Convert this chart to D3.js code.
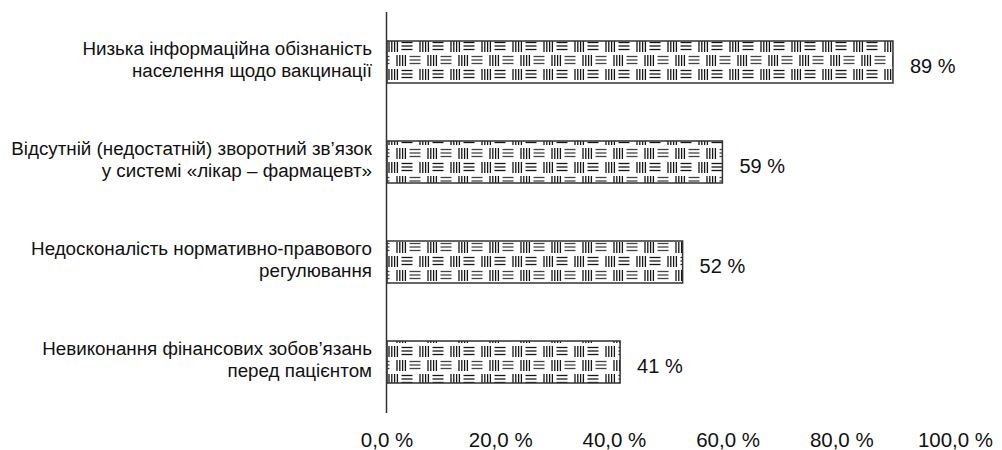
<!DOCTYPE html>
<html>
<head>
<meta charset="utf-8">
<script src="https://cdn.jsdelivr.net/npm/d3@7"></script>
<style>
  html, body { margin: 0; padding: 0; background: #fff; }
  svg { display: block; font-family: "Liberation Sans", Arial, sans-serif; }
</style>
</head>
<body>
<svg id="chart" width="1002" height="450"></svg>
<script>
// Chart data
const categories = [
  "Низька інформаційна обізнаність\nнаселення щодо вакцинації",
  "Відсутній (недостатній) зворотний зв’язок\nу системі «лікар – фармацевт»",
  "Недосконалість нормативно-правового\nрегулювання",
  "Невиконання фінансових зобов’язань\nперед пацієнтом"
];
const values = [89, 59, 52, 41];
const xTicks = [0, 20, 40, 60, 80, 100];

const svg = d3.select("#chart");
const defs = svg.append("defs");

const x = d3.scaleLinear().domain([0, 100]).range([387, 955.5]);
const y = d3.scaleBand().domain(categories).range([12, 412])
  .paddingInner(0.58).paddingOuter(0.29);

// Basket-weave fill: alternating groups of vertical and horizontal strokes
const tileW = 31, tileH = 28;
const rowPhase = [0, -7, -13, 5];
function addPattern(id, px, py) {
  const p = defs.append("pattern")
    .attr("id", id)
    .attr("patternUnits", "userSpaceOnUse")
    .attr("width", tileW).attr("height", tileH)
    .attr("patternTransform", `translate(${px},${py})`);
  p.append("rect").attr("width", tileW).attr("height", tileH).attr("fill", "#fff");
  const g = p.append("g").attr("stroke", "#151515").attr("stroke-width", 1.3);
  // row A
  [2, 4.8, 7.6, 10.4].forEach(vx => g.append("line")
    .attr("x1", vx).attr("x2", vx).attr("y1", 0).attr("y2", 11));
  [1.5, 5, 8.5].forEach(hy => g.append("line")
    .attr("x1", 14.5).attr("x2", 25.5).attr("y1", hy).attr("y2", hy));
  // row B
  [10, 12.8, 15.6, 18.4].forEach(vx => g.append("line")
    .attr("x1", vx).attr("x2", vx).attr("y1", 14).attr("y2", 25));
  [15.5, 19, 22.5].forEach(hy => {
    g.append("line").attr("x1", 22.5).attr("x2", 31).attr("y1", hy).attr("y2", hy)
      .attr("stroke", "#444");
    g.append("line").attr("x1", 0).attr("x2", 2.5).attr("y1", hy).attr("y2", hy)
      .attr("stroke", "#444");
  });
}
categories.forEach((c, i) => addPattern("weave" + i, x(0), y(c) + rowPhase[i]));

// Bars
svg.append("g").selectAll("rect")
  .data(values)
  .join("rect")
  .attr("x", x(0))
  .attr("y", (d, i) => y(categories[i]))
  .attr("width", d => x(d) - x(0))
  .attr("height", y.bandwidth())
  .attr("fill", (d, i) => `url(#weave${i})`)
  .attr("stroke", "#333")
  .attr("stroke-width", 1.5);

// Value labels
svg.append("g").selectAll("text")
  .data(values)
  .join("text")
  .attr("x", d => x(d) + 17)
  .attr("y", (d, i) => y(categories[i]) + y.bandwidth() / 2 + 11)
  .attr("font-size", 20)
  .attr("fill", "#111")
  .text(d => d + " %");

// Category axis line
svg.append("line")
  .attr("x1", 386.5).attr("x2", 386.5)
  .attr("y1", 12).attr("y2", 413)
  .attr("stroke", "#333").attr("stroke-width", 1.5);

// Category labels (two lines, right aligned)
const catG = svg.append("g").attr("text-anchor", "end").attr("font-size", 18.8).attr("fill", "#111");
categories.forEach(c => {
  const lines = c.split("\n");
  const cy = y(c) + y.bandwidth() / 2;
  const t = catG.append("text").attr("x", 372);
  lines.forEach((ln, j) => {
    t.append("tspan").attr("x", 372)
      .attr("y", cy - 7.5 + j * 22)
      .text(ln);
  });
});

// Value axis tick labels
const fmt = d => d3.format(".1f")(d).replace(".", ",") + " %";
svg.append("g").attr("text-anchor", "middle").attr("font-size", 20.5).attr("fill", "#111")
  .selectAll("text")
  .data(xTicks)
  .join("text")
  .attr("x", d => x(d))
  .attr("y", 447)
  .text(fmt);
</script>
</body>
</html>
